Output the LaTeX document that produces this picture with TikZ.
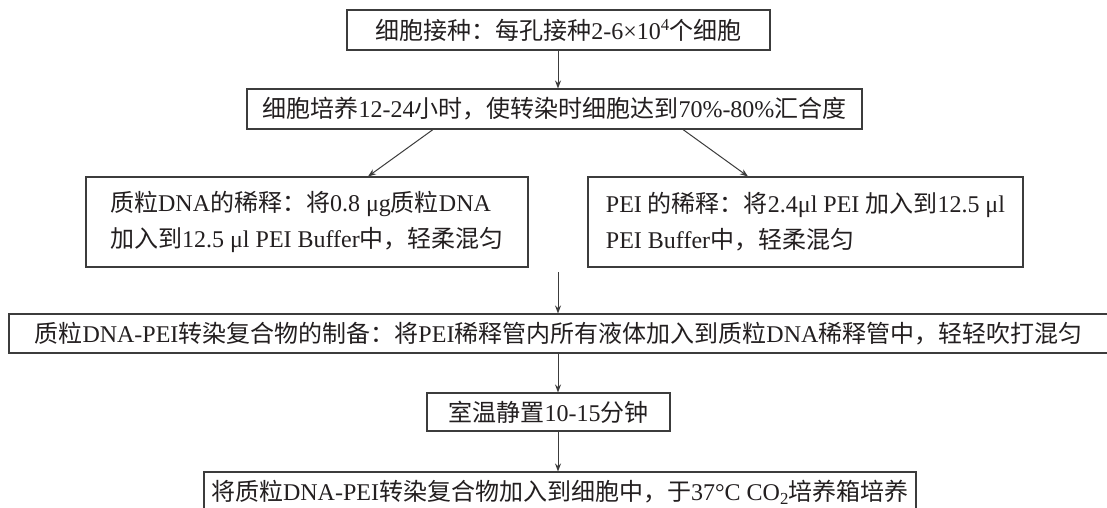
\documentclass[tikz,border=0pt]{standalone}
\usepackage{fontspec}
\setmainfont{Liberation Serif}
\newfontfamily\zhfont{Noto Sans CJK SC}
\newcommand\zh[1]{{\zhfont #1}}
\usetikzlibrary{arrows.meta}
\definecolor{ink}{HTML}{231F20}
\definecolor{edge}{HTML}{3C3C3C}
\begin{document}
\begin{tikzpicture}[x=1pt,y=-1pt,
  box/.style={draw=edge,line width=1.1pt,text=ink,inner sep=0pt,
    font=\fontsize{24}{36}\selectfont,anchor=center},
  arr/.style={draw=edge,line width=1pt,-{Stealth[length=8pt,width=6pt]}}]
\useasboundingbox[fill=white] (0,0) rectangle (1107,507);
\node[box,minimum width=423,minimum height=40] (b1) at (558.5,30)
  {\zh{细胞接种：每孔接种}2-6×10\textsuperscript{4}\zh{个细胞}};
\node[box,minimum width=615,minimum height=40] (b2) at (554.5,109)
  {\zh{细胞培养}12-24\zh{小时，使转染时细胞达到}70\%-80\%\zh{汇合度}};
\node[box,minimum width=442,minimum height=90,align=left] (b3) at (307,222)
  {\zh{质粒}DNA\zh{的稀释：将}0.8 μg\zh{质粒}DNA\\
   \zh{加入到}12.5 μl PEI Buffer\zh{中，轻柔混匀}};
\node[box,minimum width=435,minimum height=90,align=left] (b4) at (805.5,222)
  {PEI \zh{的稀释：将}2.4μl PEI \zh{加入到}12.5 μl\\
   PEI Buffer\zh{中，轻柔混匀}};
\node[box,minimum width=1099,minimum height=39] (b5) at (558.5,333.5)
  {\zh{质粒}DNA-PEI\zh{转染复合物的制备：将}PEI\zh{稀释管内所有液体加入到质粒}DNA\zh{稀释管中，轻轻吹打混匀}};
\node[box,minimum width=243,minimum height=38] (b6) at (548.5,412)
  {\zh{室温静置}10-15\zh{分钟}};
\node[box,minimum width=712,minimum height=40] (b7) at (560,492)
  {\zh{将质粒}DNA-PEI\zh{转染复合物加入到细胞中，于}37°C CO\textsubscript{2}\zh{培养箱培养}};
\coordinate (m) at (558,272);
\draw[arr] (b1.south -| m) -- (b2.north -| m);
\draw[arr] ([xshift=-121.5pt]b2.south) -- ([xshift=61pt]b3.north);
\draw[arr] ([xshift=128.5pt]b2.south) -- ([xshift=-57.5pt]b4.north);
\draw[arr] (m) -- (b5.north -| m);
\draw[arr] (b5.south -| m) -- (b6.north -| m);
\draw[arr] (b6.south -| m) -- (b7.north -| m);
\end{tikzpicture}
\end{document}
